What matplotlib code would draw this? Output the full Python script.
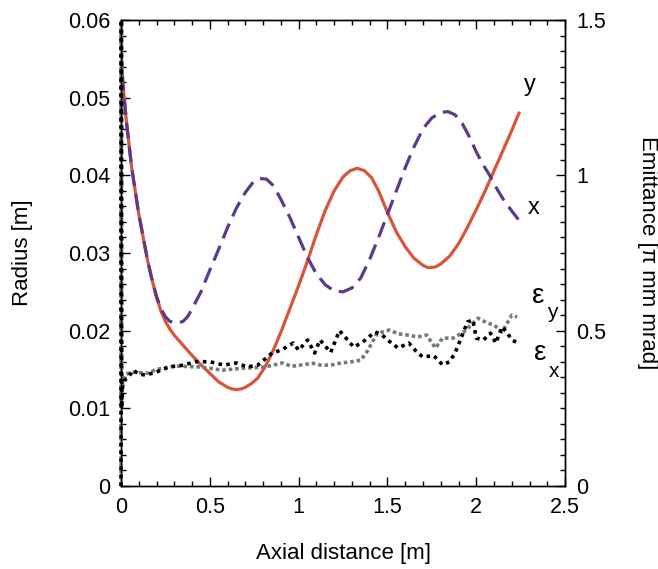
import numpy as np
import matplotlib.pyplot as plt
from matplotlib.ticker import MultipleLocator

plt.rcParams['font.family'] = ['Liberation Sans', 'DejaVu Sans']

# beam radius (m) vs axial distance (m)
z_y = [0.0, 0.005, 0.01, 0.02, 0.03, 0.045, 0.06, 0.08, 0.1, 0.125, 0.15, 0.175, 0.2,
       0.225, 0.25, 0.275, 0.3, 0.35, 0.4, 0.45, 0.5, 0.55, 0.6, 0.625, 0.65, 0.675, 0.7,
       0.735, 0.77, 0.81, 0.85, 0.9, 0.95, 1.0, 1.05, 1.1, 1.15, 1.2, 1.25, 1.29, 1.33,
       1.37, 1.41, 1.45, 1.5, 1.55, 1.6, 1.65, 1.7, 1.73, 1.77, 1.8, 1.85, 1.9, 1.95,
       2.0, 2.05, 2.1, 2.15, 2.2, 2.24]
r_y = [0.056, 0.054, 0.052, 0.0495, 0.047, 0.044, 0.041, 0.038, 0.035, 0.032, 0.029,
       0.0265, 0.0243, 0.0225, 0.0212, 0.0202, 0.0194, 0.0181, 0.0168, 0.0156, 0.0145,
       0.0134, 0.0127, 0.0125, 0.0124, 0.0125, 0.0127, 0.0132, 0.0139, 0.0153, 0.0171,
       0.0198, 0.0228, 0.0258, 0.029, 0.0324, 0.0355, 0.038, 0.0398, 0.0406, 0.0409,
       0.0406, 0.0397, 0.038, 0.0352, 0.0327, 0.0308, 0.0293, 0.0284, 0.0281, 0.0282,
       0.0286, 0.0296, 0.0312, 0.0333, 0.0356, 0.038, 0.0406, 0.0432, 0.0458, 0.048]

z_x = [0.0, 0.005, 0.01, 0.02, 0.03, 0.045, 0.06, 0.08, 0.1, 0.125, 0.15, 0.175, 0.2,
       0.225, 0.25, 0.275, 0.3, 0.325, 0.35, 0.375, 0.4, 0.45, 0.5, 0.55, 0.6, 0.65, 0.7,
       0.74, 0.78, 0.82, 0.86, 0.9, 0.95, 1.0, 1.05, 1.1, 1.15, 1.2, 1.25, 1.3, 1.35,
       1.4, 1.45, 1.5, 1.55, 1.6, 1.65, 1.7, 1.75, 1.8, 1.84, 1.88, 1.92, 1.96, 2.0,
       2.04, 2.08, 2.12, 2.16, 2.2, 2.24]
r_x = [0.056, 0.054, 0.052, 0.0495, 0.047, 0.044, 0.041, 0.038, 0.035, 0.032, 0.029,
       0.0265, 0.0244, 0.0228, 0.0218, 0.0212, 0.021, 0.021, 0.0212, 0.0218, 0.0228,
       0.025, 0.0278, 0.0305, 0.0333, 0.0358, 0.0378, 0.039, 0.0396, 0.0395, 0.0386,
       0.0369, 0.0346, 0.032, 0.0294, 0.0273, 0.0259, 0.0251, 0.025, 0.0255, 0.0268,
       0.0292, 0.032, 0.035, 0.038, 0.041, 0.0437, 0.046, 0.0474, 0.0481, 0.0482,
       0.0478, 0.0467, 0.045, 0.043, 0.0413, 0.0398, 0.0381, 0.0366, 0.0354, 0.0342]

# emittance (pi mm mrad)
z_ex = [0.0, 0.002, 0.004, 0.01, 0.02, 0.04, 0.07, 0.1, 0.14, 0.2, 0.27, 0.35, 0.42, 0.5,
        0.58, 0.65, 0.71, 0.77, 0.85, 0.9, 0.97, 1.0, 1.05, 1.09, 1.12, 1.18, 1.23, 1.31,
        1.36, 1.43, 1.47, 1.5, 1.56, 1.62, 1.67, 1.7, 1.76, 1.81, 1.85, 1.88, 1.91, 1.95,
        1.98, 2.0, 2.04, 2.08, 2.11, 2.145, 2.17, 2.2, 2.235]
e_x = [0.0, 1.5, 0.25, 0.33, 0.34, 0.35, 0.373, 0.36, 0.357, 0.367, 0.383, 0.389, 0.4,
       0.4, 0.389, 0.396, 0.383, 0.389, 0.428, 0.437, 0.46, 0.437, 0.47, 0.428, 0.47,
       0.43, 0.5, 0.447, 0.463, 0.496, 0.486, 0.47, 0.444, 0.46, 0.428, 0.415, 0.42,
       0.39, 0.4, 0.428, 0.47, 0.528, 0.534, 0.476, 0.47, 0.492, 0.46, 0.512, 0.496,
       0.47, 0.46]

z_ey = [0.0, 0.002, 0.004, 0.01, 0.03, 0.06, 0.15, 0.2, 0.3, 0.45, 0.57, 0.71, 0.81,
        0.91, 0.96, 1.02, 1.08, 1.13, 1.19, 1.24, 1.3, 1.35, 1.39, 1.44, 1.51, 1.56, 1.61,
        1.67, 1.72, 1.77, 1.81, 1.87, 1.93, 2.01, 2.06, 2.1, 2.145, 2.2, 2.23]
e_y = [0.0, 1.5, 0.28, 0.34, 0.36, 0.367, 0.363, 0.375, 0.386, 0.383, 0.373, 0.38, 0.383,
       0.396, 0.385, 0.39, 0.395, 0.388, 0.39, 0.396, 0.4, 0.405, 0.437, 0.49, 0.502,
       0.49, 0.486, 0.48, 0.486, 0.444, 0.476, 0.476, 0.496, 0.54, 0.525, 0.518, 0.496,
       0.55, 0.544]

fig = plt.figure(figsize=(6.58, 5.69), dpi=100)
ax = fig.add_axes([0.1839, 0.1459, 0.675, 0.819])
ax2 = ax.twinx()

ax.plot(z_y, r_y, '-', color='#D9553A', lw=2.3, zorder=3)
ax.plot(z_x, r_x, color='#5B3A8C', lw=2.3, dashes=(5, 2.5), zorder=3)
ax2.plot(z_ey, e_y, color='#6E7F78', lw=2.6, dashes=(1, 0.8), dash_capstyle='butt',
         clip_on=False)
ax2.plot(z_ex, e_x, color='black', lw=2.6, dashes=(1, 1.2), dash_capstyle='butt',
         clip_on=False)

ax.set_xlim(0, 2.5)
ax.set_ylim(0, 0.06)
ax2.set_ylim(0, 1.5)

ax.xaxis.set_major_locator(MultipleLocator(0.5))
ax.xaxis.set_minor_locator(MultipleLocator(0.1))
ax.yaxis.set_major_locator(MultipleLocator(0.01))
ax.yaxis.set_minor_locator(MultipleLocator(0.002))
ax2.yaxis.set_major_locator(MultipleLocator(0.5))
ax2.yaxis.set_minor_locator(MultipleLocator(0.05))
ax.xaxis.set_major_formatter(plt.FuncFormatter(lambda v, p: '%g' % v))
ax.yaxis.set_major_formatter(plt.FuncFormatter(lambda v, p: '%g' % v))
ax2.yaxis.set_major_formatter(plt.FuncFormatter(lambda v, p: '%g' % v))

ax.tick_params(axis='x', which='both', direction='in', top=True, labelsize=15.5, pad=8)
ax.tick_params(axis='y', which='both', direction='in', right=False, labelsize=15.5, pad=8)
ax2.tick_params(axis='y', which='both', direction='in', labelsize=15.5, pad=8)
for a in (ax, ax2):
    a.tick_params(which='major', length=6.5, width=1)
    a.tick_params(which='minor', length=3.5, width=1)
    for s in a.spines.values():
        s.set_linewidth(1)

ax.set_xlabel('Axial distance [m]', fontsize=16, labelpad=18)
ax.set_ylabel('Radius [m]', fontsize=16, labelpad=25)
ax2.set_ylabel('Emittance [π mm mrad]', fontsize=16, rotation=-90, labelpad=37)

ax.text(2.30, 0.0516, 'y', fontsize=17, ha='center', va='center')
ax.text(2.32, 0.0358, 'x', fontsize=17, ha='center', va='center')
ax.text(2.35, 0.0245, 'ε', fontsize=20, ha='center', va='center')
ax.text(2.43, 0.0223, 'y', fontsize=15, ha='center', va='center')
ax.text(2.36, 0.0171, 'ε', fontsize=20, ha='center', va='center')
ax.text(2.44, 0.0147, 'x', fontsize=15, ha='center', va='center')

fig.savefig('out.png', dpi=100)
